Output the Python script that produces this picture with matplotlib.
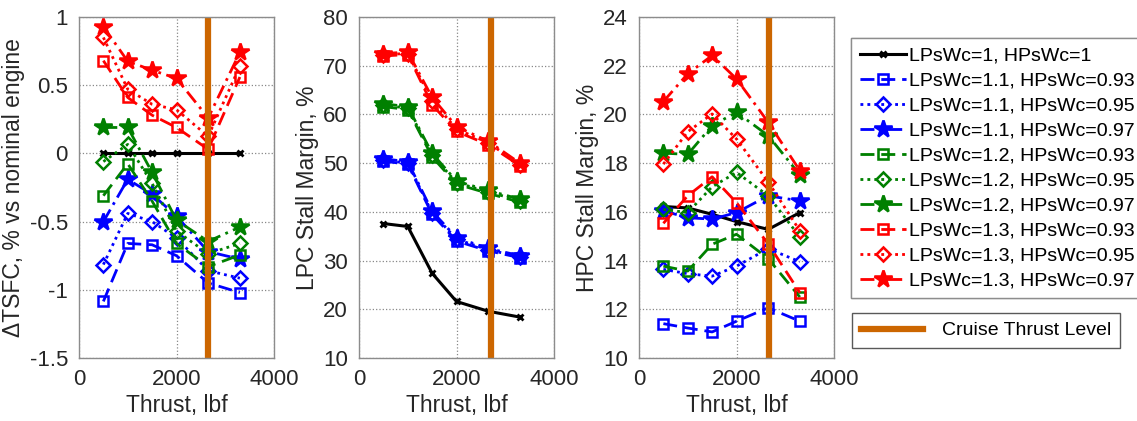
import matplotlib
matplotlib.use("Agg")
import matplotlib.pyplot as plt
from matplotlib.lines import Line2D

plt.rcParams['font.family'] = ['Liberation Sans', 'DejaVu Sans']

thrust = [500, 1000, 1500, 2000, 2650, 3300]
cruise_thrust = [2640, 2700, 2670]

labels = ["LPsWc=1, HPsWc=1",
          "LPsWc=1.1, HPsWc=0.93", "LPsWc=1.1, HPsWc=0.95", "LPsWc=1.1, HPsWc=0.97",
          "LPsWc=1.2, HPsWc=0.93", "LPsWc=1.2, HPsWc=0.95", "LPsWc=1.2, HPsWc=0.97",
          "LPsWc=1.3, HPsWc=0.93", "LPsWc=1.3, HPsWc=0.95", "LPsWc=1.3, HPsWc=0.97"]

# Delta TSFC, %
tsfc_base = [0, 0, 0, 0, 0, 0]
tsfc_11_093 = [-1.085, -0.66, -0.67, -0.75, -0.95, -1.02]
tsfc_11_095 = [-0.815, -0.44, -0.50, -0.62, -0.86, -0.915]
tsfc_11_097 = [-0.50, -0.19, -0.30, -0.46, -0.72, -0.775]
tsfc_12_093 = [-0.31, -0.076, -0.35, -0.66, -0.83, -0.745]
tsfc_12_095 = [-0.06, 0.066, -0.22, -0.57, -0.735, -0.66]
tsfc_12_097 = [0.19, 0.19, -0.14, -0.49, -0.645, -0.54]
tsfc_13_093 = [0.68, 0.41, 0.28, 0.19, 0.03, 0.56]
tsfc_13_095 = [0.85, 0.47, 0.36, 0.32, 0.125, 0.64]
tsfc_13_097 = [0.93, 0.675, 0.61, 0.55, 0.26, 0.74]

# LPC stall margin, %
lpc_base = [37.6, 37.0, 27.4, 21.6, 19.6, 18.4]
lpc_11_093 = [50.4, 49.8, 39.5, 34.0, 32.0, 30.6]
lpc_11_095 = [50.6, 50.0, 39.8, 34.4, 32.2, 30.8]
lpc_11_097 = [50.9, 50.3, 40.1, 34.7, 32.5, 31.0]
lpc_12_093 = [61.6, 61.0, 51.3, 45.7, 43.8, 42.0]
lpc_12_095 = [61.9, 61.3, 51.7, 46.0, 44.1, 42.3]
lpc_12_097 = [62.2, 61.6, 52.0, 46.3, 44.4, 42.6]
lpc_13_093 = [72.0, 72.3, 62.0, 56.5, 53.8, 49.5]
lpc_13_095 = [72.3, 72.5, 62.8, 57.0, 54.2, 49.7]
lpc_13_097 = [72.5, 72.8, 63.5, 57.5, 54.5, 50.0]

# HPC stall margin, %
hpc_base = [16.22, 16.16, 15.9, 15.6, 15.28, 15.97]
hpc_11_093 = [11.41, 11.23, 11.07, 11.51, 12.06, 11.51]
hpc_11_095 = [13.64, 13.46, 13.36, 13.77, 14.49, 13.95]
hpc_11_097 = [16.04, 15.76, 15.70, 15.97, 16.66, 16.45]
hpc_12_093 = [13.77, 13.57, 14.67, 15.08, 14.08, 12.50]
hpc_12_095 = [16.10, 15.97, 17.03, 17.62, 16.66, 14.97]
hpc_12_097 = [18.41, 18.36, 19.54, 20.09, 19.13, 17.52]
hpc_13_093 = [15.53, 16.66, 17.44, 16.38, 14.69, 12.68]
hpc_13_095 = [17.96, 19.29, 20.02, 18.99, 17.23, 15.22]
hpc_13_097 = [20.53, 21.67, 22.42, 21.46, 19.68, 17.69]

tsfc = [tsfc_base, tsfc_11_093, tsfc_11_095, tsfc_11_097, tsfc_12_093, tsfc_12_095,
        tsfc_12_097, tsfc_13_093, tsfc_13_095, tsfc_13_097]
lpc = [lpc_base, lpc_11_093, lpc_11_095, lpc_11_097, lpc_12_093, lpc_12_095,
       lpc_12_097, lpc_13_093, lpc_13_095, lpc_13_097]
hpc = [hpc_base, hpc_11_093, hpc_11_095, hpc_11_097, hpc_12_093, hpc_12_095,
       hpc_12_097, hpc_13_093, hpc_13_095, hpc_13_097]

BLUE, GREEN, RED = '#0000FF', '#008000', '#FF0000'
ORANGE = '#CC6600'
colors = ['black'] + [BLUE] * 3 + [GREEN] * 3 + [RED] * 3
dash = (5, 2.5)
dot = (1, 1.5)
dashdot = (5, 2, 1, 2)
styles = [None] + [dash, dot, dashdot] * 3
markers = ['x'] + ['s', 'D', '*'] * 3
msizes = [5] + [7, 7, 13] * 3

W, H = 1137, 421
fig = plt.figure(figsize=(W / 100, H / 100), dpi=100)

TXT = '#262626'
panels = [
    (79, tsfc, (-1.5, 1), [-1.5, -1, -0.5, 0, 0.5, 1], ['-1.5', '-1', '-0.5', '0', '0.5', '1'],
     '\u0394TSFC, % vs nominal engine'),
    (359, lpc, (10, 80), list(range(10, 81, 10)), [str(v) for v in range(10, 81, 10)],
     'LPC Stall Margin, %'),
    (639, hpc, (10, 24), list(range(10, 25, 2)), [str(v) for v in range(10, 25, 2)],
     'HPC Stall Margin, %'),
]

handles = []
for pi, (left, data, ylim, yt, ytl, ylab) in enumerate(panels):
    ax = fig.add_axes([left / W, (H - 358) / H, 195 / W, 341 / H])
    for i, ys in enumerate(data):
        kw = dict(color=colors[i], marker=markers[i], markersize=msizes[i],
                  linewidth=2 if i > 0 else 2.2, label=labels[i])
        if i == 0:
            kw.update(markeredgewidth=2, linestyle='-')
        else:
            mfc = colors[i] if markers[i] == '*' else 'none'
            kw.update(markerfacecolor=mfc, markeredgewidth=1.8, dashes=styles[i])
        ln, = ax.plot(thrust, ys, **kw)
        if pi == 0:
            handles.append(ln)
    ax.axvline(cruise_thrust[pi], color=ORANGE, linewidth=4.5,
               ymin=0.01, ymax=0.995, label='Cruise Thrust Level')
    ax.set_xlim(0, 4000)
    ax.set_ylim(*ylim)
    ax.set_xticks([0, 2000, 4000])
    ax.set_xticklabels(['0', '2000', '4000'])
    ax.set_yticks(yt)
    ax.set_yticklabels(ytl)
    ax.grid(True, linestyle=':', color='#888888', linewidth=0.9)
    ax.tick_params(labelsize=16, colors=TXT, direction='in', length=0)
    ax.tick_params(axis='x', pad=8)
    ax.tick_params(axis='y', pad=8)
    for s in ax.spines.values():
        s.set_color('#8c8c8c')
        s.set_linewidth(1.0)
    ax.set_xlabel('Thrust, lbf', fontsize=16.5, color=TXT, labelpad=3)
    ax.set_ylabel(ylab, fontsize=16.5, color=TXT, labelpad=3)

leg1 = fig.legend(handles=handles, loc='upper left',
                  bbox_to_anchor=(851 / W, 1 - 38 / H), fontsize=14,
                  frameon=True, fancybox=False, edgecolor='#808080',
                  handlelength=2.4, handletextpad=0.15, labelspacing=0.38,
                  borderpad=0.45, borderaxespad=0, numpoints=1)
leg1.get_frame().set_linewidth(1.0)
cruise_handle = Line2D([], [], color=ORANGE, linewidth=4.5)
leg2 = fig.legend(handles=[cruise_handle], labels=['Cruise Thrust Level'], loc='upper left',
                  bbox_to_anchor=(852 / W, 1 - 313 / H), fontsize=14,
                  frameon=True, fancybox=False, edgecolor='#303030',
                  handlelength=3.2, handletextpad=1.0, borderpad=0.45,
                  borderaxespad=0)
fig.add_artist(leg1)

fig.savefig('out.png', dpi=100)
